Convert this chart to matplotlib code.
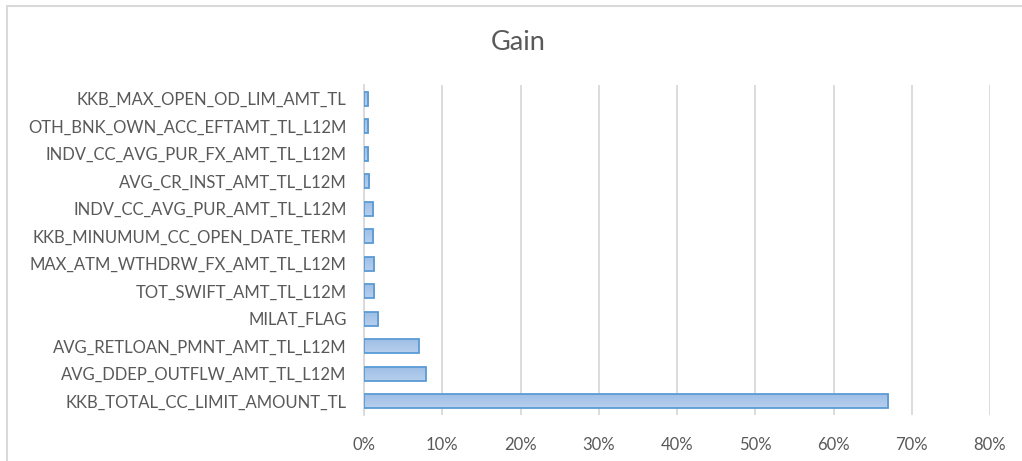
import matplotlib
matplotlib.use("Agg")
import matplotlib.pyplot as plt
import matplotlib.patches as mpatches
from matplotlib.ticker import FuncFormatter
from matplotlib.colors import LinearSegmentedColormap
import numpy as np

categories = [
    "KKB_TOTAL_CC_LIMIT_AMOUNT_TL",
    "AVG_DDEP_OUTFLW_AMT_TL_L12M",
    "AVG_RETLOAN_PMNT_AMT_TL_L12M",
    "MILAT_FLAG",
    "TOT_SWIFT_AMT_TL_L12M",
    "MAX_ATM_WTHDRW_FX_AMT_TL_L12M",
    "KKB_MINUMUM_CC_OPEN_DATE_TERM",
    "INDV_CC_AVG_PUR_AMT_TL_L12M",
    "AVG_CR_INST_AMT_TL_L12M",
    "INDV_CC_AVG_PUR_FX_AMT_TL_L12M",
    "OTH_BNK_OWN_ACC_EFTAMT_TL_L12M",
    "KKB_MAX_OPEN_OD_LIM_AMT_TL",
]
gain = [0.670, 0.079, 0.070, 0.018, 0.013, 0.013, 0.012, 0.012, 0.007, 0.0055, 0.0055, 0.0055]
xticks = [0, 0.1, 0.2, 0.3, 0.4, 0.5, 0.6, 0.7, 0.8]

plt.rcParams['font.family'] = ['Lato', 'DejaVu Sans']
txt = '#595959'
grid = '#d9d9d9'

fig = plt.figure(figsize=(10.22, 4.61), dpi=100)
ax = fig.add_axes([364/1022, 1-415/461, (990-364)/1022, (415-85)/461])

y = np.arange(len(categories))
bars = ax.barh(y, gain, height=0.52, color='#a9c5ea', edgecolor='#5b9bd5', linewidth=1.3, zorder=3)

# vertical gradient fill inside each bar
grad = np.linspace(0, 1, 64).reshape(-1, 1)
cmap = LinearSegmentedColormap.from_list('g', ['#b7cfee', '#9dbde6'])
for b in bars:
    x0, y0 = b.get_x(), b.get_y()
    w, h = b.get_width(), b.get_height()
    im = ax.imshow(grad, extent=(x0, x0 + w, y0 + h, y0), aspect='auto', cmap=cmap,
                   zorder=2.5, origin='upper')
    im.set_clip_path(b)
    b.set_facecolor('none')

ax.set_xlim(0, 0.8)
ax.set_ylim(-0.5, len(categories) - 0.5)
ax.set_yticks(y)
ax.set_yticklabels(categories)
ax.set_xticks(xticks)
ax.xaxis.set_major_formatter(FuncFormatter(lambda v, p: f"{v*100:.0f}%"))
ax.tick_params(axis='both', length=0, colors=txt, labelsize=12)
ax.tick_params(axis='y', pad=12.5)
ax.tick_params(axis='x', pad=16)
ax.grid(axis='x', color=grid, linewidth=1.3, zorder=0)
ax.set_axisbelow(True)
for s in ['top', 'right', 'bottom']:
    ax.spines[s].set_visible(False)
ax.spines['left'].set_color(grid)
ax.spines['left'].set_linewidth(1.3)
ax.spines['left'].set_zorder(1)

fig.text(518/1022, 1-42/461, "Gain", ha='center', va='center', fontsize=19.5, color=txt)

border = mpatches.Rectangle((7/1022, -0.1), 1.2, 1-6/461+0.1, transform=fig.transFigure,
                            fill=False, edgecolor=grid, linewidth=1.5)
fig.patches.append(border)

fig.savefig("out.png", dpi=100)
